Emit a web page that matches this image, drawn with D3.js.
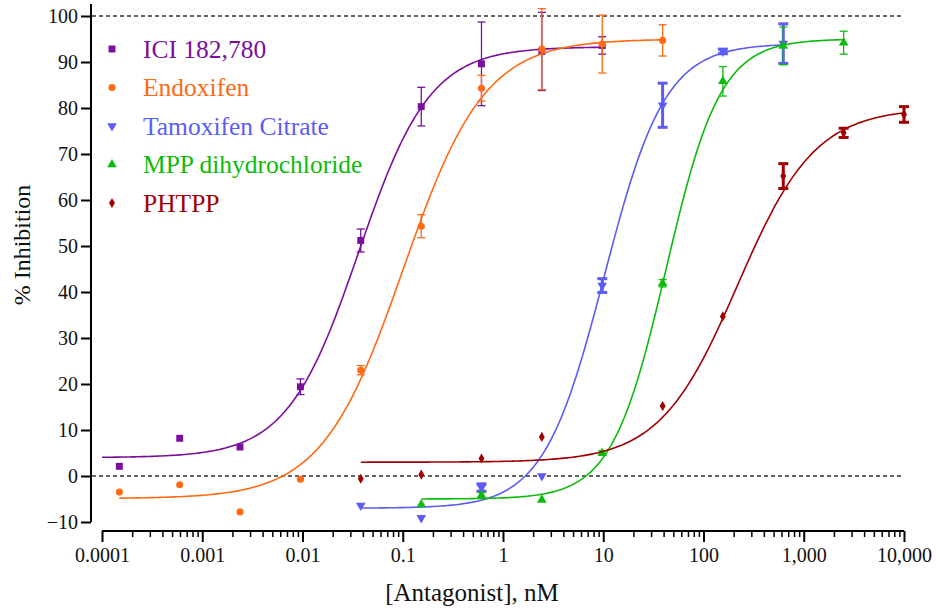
<!DOCTYPE html>
<html lang="en">
<head>
<meta charset="UTF-8">
<title>% Inhibition vs Antagonist</title>
<script src="https://d3js.org/d3.v7.min.js"></script>
<style>
    body { margin: 0; background: #fff; }
    svg { display: block; }
    svg text { font-family: "Liberation Serif", "Times New Roman", serif !important; }
</style>
</head>
<body>
<svg id="chart" width="936" height="611"></svg>
<script>
// concentrations (nM), 4-fold dilution series
const conc = [0.000149, 0.000596, 0.00238, 0.00954, 0.0381, 0.153, 0.610, 2.44, 9.77, 39.1, 156, 625, 2500, 10000];

const seriesNames = ["ICI 182,780", "Endoxifen", "Tamoxifen Citrate", "MPP dihydrochloride", "PHTPP"];
const seriesColors = ["#7b0f9c", "#ff6a13", "#5c5cf5", "#0cbb0c", "#a00000"];
const seriesSymbols = ["square", "circle", "triangleDown", "triangle", "diamond"];

// mean % inhibition per concentration (null = not tested)
const iciMean   = [2.1, 8.2, 6.3, 19.4, 51.2, 80.3, 89.6, 92.3, 93.6, null, null, null, null, null];
const iciErr    = [0, 0, 0, 1.7, 2.5, 4.2, 9.1, 8.5, 1.9, null, null, null, null, null];
const endoMean  = [-3.5, -1.9, -7.8, -0.7, 23.0, 54.3, 84.3, 92.8, 93.9, 94.7, null, null, null, null];
const endoErr   = [0, 0, 0, 0, 1.0, 2.5, 2.8, 8.8, 6.3, 3.4, null, null, null, null];
const tamMean   = [null, null, null, null, -6.4, -9.1, -2.5, 0.0, 41.4, 80.6, 92.3, 94.0, null, null];
const tamErr    = [null, null, null, null, 0, 0, 0.8, 0, 1.5, 4.8, 0.5, 4.3, null, null];
const mppMean   = [null, null, null, null, null, -6.2, -4.2, -5.2, 5.0, 41.9, 85.8, 93.5, 94.2, null];
const mppErr    = [null, null, null, null, null, 0, 0.6, 0, 0.5, 0.8, 3.2, 4.1, 2.5, null];
const phtppMean = [null, null, null, null, -0.6, 0.3, 3.8, 8.5, null, 15.2, 34.7, 65.2, 74.6, 78.6];
const phtppErr  = [null, null, null, null, 0, 0, 0, 0, null, 0, 0, 2.7, 1.0, 1.7];

// four-parameter logistic fits: bottom, top, logEC50, hill, fitted range
const fitBottom = [4.0, -4.9, -7.0, -5.0, 3.0];
const fitTop    = [93.3, 95.0, 94.0, 95.0, 80.0];
const fitLogEC  = [-1.44, -0.994, 1.011, 1.627, 2.34];
const fitHill   = [1.22, 1.07, 1.43, 1.6, 1.12];
const fitFrom   = [0.0001, 0.000149, 0.0381, 0.153, 0.0381];
const fitTo     = [9.77, 39.1, 625, 2500, 10000];
const boldBars  = [false, false, true, false, true];

const xMajor = [0.0001, 0.001, 0.01, 0.1, 1, 10, 100, 1000, 10000];
const xMajorLabels = ["0.0001", "0.001", "0.01", "0.1", "1", "10", "100", "1,000", "10,000"];
const yTicks = [-10, 0, 10, 20, 30, 40, 50, 60, 70, 80, 90, 100];

const means = [iciMean, endoMean, tamMean, mppMean, phtppMean];
const errs = [iciErr, endoErr, tamErr, mppErr, phtppErr];

const svg = d3.select("#chart");
const x = d3.scaleLog().domain([1e-4, 1e4]).range([102, 904]);
const y = d3.scaleLinear().domain([-10, 100]).range([522, 16]);

// reference dashed lines at 0 and 100
svg.selectAll(".ref").data([0, 100]).enter().append("line")
    .attr("x1", 92).attr("x2", x(1e4))
    .attr("y1", d => y(d)).attr("y2", d => y(d))
    .attr("stroke", "#333").attr("stroke-width", 1.6)
    .attr("stroke-dasharray", "4,3");

// y axis
const yAxis = svg.append("g").attr("transform", "translate(91,0)")
    .call(d3.axisLeft(y).tickValues(yTicks).tickSize(10).tickPadding(3));
yAxis.select(".domain").attr("d", `M0,4V${y(-10)}`).attr("stroke", "#000").attr("stroke-width", 2);
yAxis.selectAll(".tick line").attr("stroke-width", 2);
yAxis.selectAll("text").attr("font-size", 20).attr("fill", "#111");

// x axis: minor ticks then major with labels
const xMinor = x.ticks().filter(v => !xMajor.some(m => Math.abs(m - v) / m < 1e-9));
const xAxisMinor = svg.append("g").attr("transform", "translate(0,531)")
    .call(d3.axisBottom(x).tickValues(xMinor).tickSize(6).tickFormat(""));
xAxisMinor.select(".domain").attr("d", `M${x(1e-4)},0H${x(1e4)}`).attr("stroke-width", 2);
xAxisMinor.selectAll(".tick line").attr("stroke-width", 1.5);
const xAxisMajor = svg.append("g").attr("transform", "translate(0,531)")
    .call(d3.axisBottom(x).tickValues(xMajor).tickSize(11).tickPadding(6)
        .tickFormat((d, i) => xMajorLabels[i]));
xAxisMajor.select(".domain").remove();
xAxisMajor.selectAll(".tick line").attr("stroke-width", 2);
xAxisMajor.selectAll("text").attr("font-size", 20).attr("fill", "#111");

// axis titles
svg.append("text").attr("x", 472).attr("y", 601).attr("text-anchor", "middle")
    .attr("font-size", 25).attr("fill", "#111").text("[Antagonist], nM");
svg.append("text").attr("transform", "translate(30,245) rotate(-90)").attr("text-anchor", "middle")
    .attr("font-size", 24).attr("fill", "#111").text("% Inhibition");

function symbolPath(kind) {
    const t = {
        square: [d3.symbolSquare, 48],
        circle: [d3.symbolCircle, 40],
        triangleDown: [d3.symbolTriangle, 40],
        triangle: [d3.symbolTriangle, 40],
        diamond: [d3.symbolDiamond, 30]
    }[kind];
    return d3.symbol().type(t[0]).size(t[1])();
}

// curves, error bars and markers per series
seriesNames.forEach((name, s) => {
    const col = seriesColors[s];
    const g = svg.append("g");
    const f = v => fitBottom[s] + (fitTop[s] - fitBottom[s]) / (1 + Math.pow(10, (fitLogEC[s] - Math.log10(v)) * fitHill[s]));
    const lx = d3.scaleLinear().domain([0, 200]).range([Math.log10(fitFrom[s]), Math.log10(fitTo[s])]);
    const curve = d3.range(201).map(i => Math.pow(10, lx(i)));
    g.append("path").datum(curve)
        .attr("d", d3.line().x(d => x(d)).y(d => y(f(d))))
        .attr("fill", "none").attr("stroke", col).attr("stroke-width", 1.6);

    const pts = conc.map((c, i) => ({c, m: means[s][i], e: errs[s][i]})).filter(d => d.m !== null);
    const bw = boldBars[s] ? 3 : 1.3;
    const cap = boldBars[s] ? 5 : 4;
    const eb = g.selectAll(".eb").data(pts.filter(d => d.e > 0)).enter().append("g");
    eb.append("line").attr("x1", d => x(d.c)).attr("x2", d => x(d.c))
        .attr("y1", d => y(d.m + d.e)).attr("y2", d => y(d.m - d.e))
        .attr("stroke", col).attr("stroke-width", bw);
    [1, -1].forEach(sg => {
        eb.append("line").attr("x1", d => x(d.c) - cap).attr("x2", d => x(d.c) + cap)
            .attr("y1", d => y(d.m + sg * d.e)).attr("y2", d => y(d.m + sg * d.e))
            .attr("stroke", col).attr("stroke-width", bw);
    });
    const rot = seriesSymbols[s] === "triangleDown" ? " rotate(180)" : "";
    g.selectAll(".pt").data(pts).enter().append("path")
        .attr("d", symbolPath(seriesSymbols[s]))
        .attr("transform", d => `translate(${x(d.c)},${y(d.m)})${rot}`)
        .attr("fill", col);

    // legend entry
    const ly = 49 + s * 38.5;
    svg.append("path").attr("d", symbolPath(seriesSymbols[s]))
        .attr("transform", `translate(112,${ly})${rot}`).attr("fill", col);
    svg.append("text").attr("x", 143).attr("y", ly + 8.5)
        .attr("font-size", 25.5).attr("fill", col).text(name);
});
</script>
</body>
</html>
